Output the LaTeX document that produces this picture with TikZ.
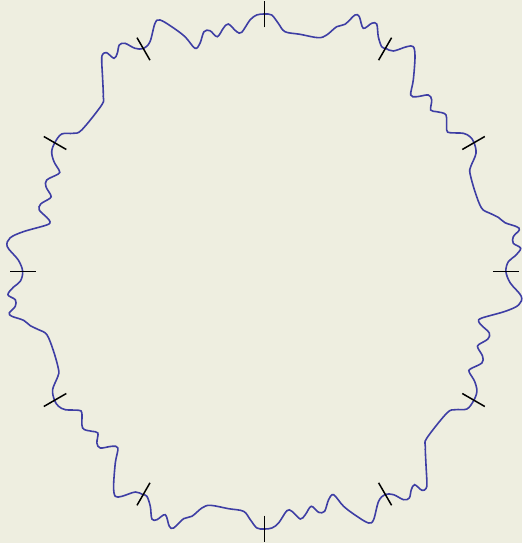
\documentclass[tikz,border=0pt]{standalone}
\usepackage{xcolor}
\usepackage{tikz}
\definecolor{paper}{RGB}{238,238,224}
\definecolor{inkblue}{RGB}{62,62,164}

\begin{document}
\begin{tikzpicture}[x=1pt, y=1pt,
  wiggle/.style={draw=inkblue, line width=1.6pt},
  notch/.style={draw=black, line width=1.5pt}]
\fill[paper] (-264.3,-271.5) rectangle (257.7,271.5);
% wobbly outline (second half is the first half turned by 180 degrees)
\draw[wiggle] plot[smooth cycle, tension=0.55] coordinates {
 (-241.6,0) (-246,11.5) (-257,24.8) (-254.3,33.5) (-241,39.8) (-217.6,46.5)
 (-214.3,49.8) (-217.6,54.2) (-225,61.5) (-223.6,67.5) (-214.3,73.2) (-213.6,76.5)
 (-218.3,84.8) (-217.6,91.5) (-206,97.5) (-205,100.8) (-210.3,109.8) (-212.6,119.8)
 (-209.3,129.2) (-202.6,137.5) (-191,138.2) (-182.6,141.5) (-162.6,166.5) (-161,174.8)
 (-161.6,191.5) (-162.6,211.5) (-161.6,217.2) (-157.6,218.8) (-150.3,213.2) (-147,218.2)
 (-145,226.5) (-139.3,228.2) (-129.3,223.2) (-120.8,223) (-114.3,229.8) (-109.3,248.2)
 (-104.3,251.5) (-92.6,244.8) (-79.3,234.8) (-69.3,223.2) (-64.3,228.2) (-60.3,239.8)
 (-54.3,240.8) (-47,234.8) (-41,243.2) (-36,247.5) (-27.6,239.8) (-22.6,239.2)
 (-14.3,251.5) (-7.6,256.5) (0,257.5) (7.4,256.5) (14,248.2) (20.7,239.8)
 (35.7,237.2) (54,233.8) (62.4,236.5) (72.4,244.8) (80.7,247.2) (90.7,256.5)
 (95,254.8) (99,243.2) (107.4,248.2) (112.4,247.5) (114,234.8) (117.4,224.8)
 (121.7,223) (129,220.5) (142.4,224.8) (149,224.8) (150.7,214.8) (149,191.5)
 (146.4,176.5) (152.4,174.8) (164,176.5) (167.4,171.5) (166.4,161.5) (172.4,159.8)
 (181.7,156.5) (182.4,141.5) (185.7,138.8) (199,138.2) (205.7,134.8) (209.7,129)
 (211.7,118.2) (206.4,104.8) (205.7,98.2) (210.7,79.8) (217.4,63.2) (225.7,58.2)
 (234,54.2) (240.7,48.8) (252.4,44.8) (255,41.5) (249,34.8) (249,28.2)
 (256.4,23.2) (250.7,15.5) (244,9.8)
 (241.6,0) (246,-11.5) (257,-24.8) (254.3,-33.5) (241,-39.8) (217.6,-46.5)
 (214.3,-49.8) (217.6,-54.2) (225,-61.5) (223.6,-67.5) (214.3,-73.2) (213.6,-76.5)
 (218.3,-84.8) (217.6,-91.5) (206,-97.5) (205,-100.8) (210.3,-109.8) (212.6,-119.8)
 (209.3,-129.2) (202.6,-137.5) (191,-138.2) (182.6,-141.5) (162.6,-166.5) (161,-174.8)
 (161.6,-191.5) (162.6,-211.5) (161.6,-217.2) (157.6,-218.8) (150.3,-213.2) (147,-218.2)
 (145,-226.5) (139.3,-228.2) (129.3,-223.2) (120.8,-223) (114.3,-229.8) (109.3,-248.2)
 (104.3,-251.5) (92.6,-244.8) (79.3,-234.8) (69.3,-223.2) (64.3,-228.2) (60.3,-239.8)
 (54.3,-240.8) (47,-234.8) (41,-243.2) (36,-247.5) (27.6,-239.8) (22.6,-239.2)
 (14.3,-251.5) (7.6,-256.5) (0,-257.5) (-7.4,-256.5) (-14,-248.2) (-20.7,-239.8)
 (-35.7,-237.2) (-54,-233.8) (-62.4,-236.5) (-72.4,-244.8) (-80.7,-247.2) (-90.7,-256.5)
 (-95,-254.8) (-99,-243.2) (-107.4,-248.2) (-112.4,-247.5) (-114,-234.8) (-117.4,-224.8)
 (-121.7,-223) (-129,-220.5) (-142.4,-224.8) (-149,-224.8) (-150.7,-214.8) (-149,-191.5)
 (-146.4,-176.5) (-152.4,-174.8) (-164,-176.5) (-167.4,-171.5) (-166.4,-161.5) (-172.4,-159.8)
 (-181.7,-156.5) (-182.4,-141.5) (-185.7,-138.8) (-199,-138.2) (-205.7,-134.8) (-209.7,-129)
 (-211.7,-118.2) (-206.4,-104.8) (-205.7,-98.2) (-210.7,-79.8) (-217.4,-63.2) (-225.7,-58.2)
 (-234,-54.2) (-240.7,-48.8) (-252.4,-44.8) (-255,-41.5) (-249,-34.8) (-249,-28.2)
 (-256.4,-23.2) (-250.7,-15.5) (-244,-9.8)};
% tick marks every 30 degrees
\foreach \a in {0,30,...,330}
  \draw[notch, shift={(\a:241.6 and 257)}, rotate=\a] (-13,0) -- (13,0);
\end{tikzpicture}
\end{document}
